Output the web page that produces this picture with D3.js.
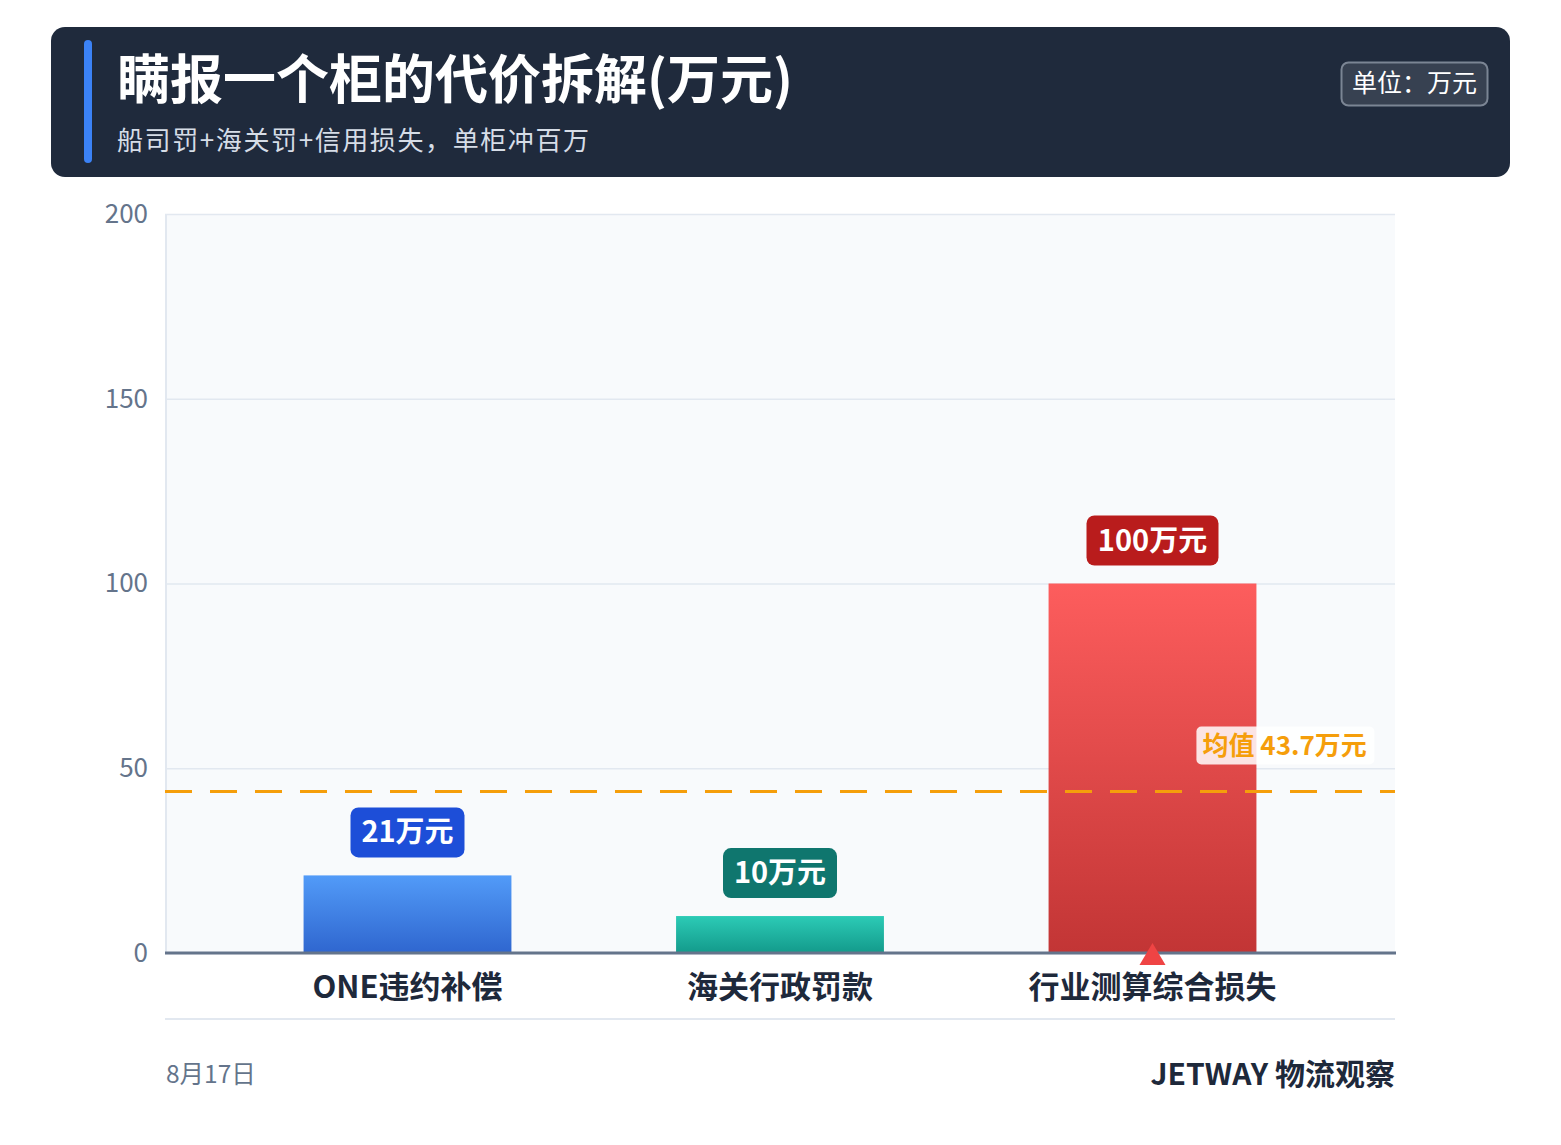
<!DOCTYPE html>
<html><head><meta charset="utf-8">
<script src="https://cdn.jsdelivr.net/npm/d3@7"></script>
<style>
html,body{margin:0;padding:0;background:#fff;}
svg{display:block;font-family:"Noto Sans CJK SC","Noto Sans",sans-serif;}
</style></head>
<body><svg id="c" width="1561" height="1145"></svg>
<script>
const categories = ["ONE违约补偿", "海关行政罚款", "行业测算综合损失"];
const values = [21, 10, 100];
const valueLabels = ["21万元", "10万元", "100万元"];
const yTicks = [0, 50, 100, 150, 200];
const meanValue = 43.7;
const meanLabel = "均值 43.7万元";
const title = "瞒报一个柜的代价拆解(万元)";
const subtitle = "船司罚+海关罚+信用损失，单柜冲百万";
const unitText = "单位：万元";
const dateText = "8月17日";
const brandText = "JETWAY 物流观察";

const svg = d3.select("#c");
const defs = svg.append("defs");
const grads = [["#529bf8","#2f66cf"],["#2ccbb6","#139a8b"],["#fd5d5d","#c23535"]];
grads.forEach((g,i)=>{
  const lg = defs.append("linearGradient").attr("id","g"+i).attr("x1",0).attr("y1",0).attr("x2",0).attr("y2",1);
  lg.append("stop").attr("offset","0%").attr("stop-color",g[0]);
  lg.append("stop").attr("offset","100%").attr("stop-color",g[1]);
});
const labelColors = ["#1d4ed8","#0f766e","#b91c1c"];

// Header
svg.append("rect").attr("x",51).attr("y",27).attr("width",1459).attr("height",150).attr("rx",14).attr("fill","#1f2a3c");
svg.append("rect").attr("x",84).attr("y",40).attr("width",8).attr("height",123).attr("rx",4).attr("fill","#3b82f6");
svg.append("text").attr("x",117).attr("y",99).attr("fill","#fff").attr("font-size",53).attr("font-weight",700).text(title);
svg.append("text").attr("x",117).attr("y",150).attr("fill","#d6dde7").attr("font-size",26).attr("letter-spacing",1.6).text(subtitle);
svg.append("rect").attr("x",1341.5).attr("y",62.5).attr("width",146).attr("height",43).attr("rx",7)
  .attr("fill","#374151").attr("stroke","#7b8594").attr("stroke-width",2);
svg.append("text").attr("x",1414.5).attr("y",92).attr("text-anchor","middle").attr("fill","#fff").attr("font-size",25).text(unitText);

// Plot
const L=165, R=1395, T=214, B=953;
const y = d3.scaleLinear().domain([0,200]).range([B,T]);
const x = d3.scaleBand().domain(categories).range([L,R]).paddingInner(0.442).paddingOuter(0.372);

svg.append("rect").attr("x",L).attr("y",T).attr("width",R-L).attr("height",B-T).attr("fill","#f8fafc");
svg.append("line").attr("x1",L+1).attr("x2",L+1).attr("y1",T).attr("y2",B).attr("stroke","#e2e8f0").attr("stroke-width",2);

const yAxis = svg.append("g").attr("transform",`translate(${L},0)`)
  .call(d3.axisLeft(y).tickValues(yTicks).tickSize(-(R-L)).tickPadding(17));
yAxis.select(".domain").remove();
yAxis.selectAll(".tick line").attr("stroke","#e2e8f0").attr("stroke-width",1.5);
yAxis.selectAll(".tick text").attr("fill","#64748b").attr("font-size",26).attr("font-family","'Noto Sans CJK SC',sans-serif");

// bars
svg.selectAll("rect.bar").data(values).join("rect").attr("class","bar")
  .attr("x",(d,i)=>x(categories[i])).attr("width",x.bandwidth())
  .attr("y",d=>y(d)).attr("height",d=>B-y(d)).attr("fill",(d,i)=>`url(#g${i})`);

// baseline
svg.append("line").attr("x1",L).attr("x2",R+1).attr("y1",B).attr("y2",B).attr("stroke","#64748b").attr("stroke-width",3);

// mean line
svg.append("line").attr("x1",L).attr("x2",R).attr("y1",y(meanValue)).attr("y2",y(meanValue))
  .attr("stroke","#f59e0b").attr("stroke-width",3).attr("stroke-dasharray","27,18");
const rx0 = x(categories[2]) + x.bandwidth() - 60;
svg.append("rect").attr("x",rx0).attr("y",y(meanValue)-65).attr("width",178).attr("height",38).attr("rx",5)
  .attr("fill","rgba(255,255,255,0.85)");
svg.append("text").attr("x",rx0+6).attr("y",y(meanValue)-37).attr("fill","#f59e0b").attr("font-size",26).attr("font-weight",700).text(meanLabel);

// value labels
values.forEach((v,i)=>{
  const cx = x(categories[i]) + x.bandwidth()/2;
  const w = valueLabels[i].length>4 ? 132 : 114;
  const top = y(v) - 18 - 50;
  svg.append("rect").attr("x",cx-w/2).attr("y",top).attr("width",w).attr("height",50).attr("rx",8).attr("fill",labelColors[i]);
  svg.append("text").attr("x",cx).attr("y",top+35).attr("text-anchor","middle").attr("fill","#fff")
    .attr("font-size",29).attr("font-weight",700).text(valueLabels[i]);
});

// triangle marker at the largest bar
const imax = values.indexOf(d3.max(values));
const tcx = x(categories[imax]) + x.bandwidth()/2;
svg.append("path").attr("d",`M${tcx-13},${B+12} L${tcx},${B-10} L${tcx+13},${B+12} Z`).attr("fill","#ef4444");

// x labels
categories.forEach((c)=>{
  svg.append("text").attr("x",x(c)+x.bandwidth()/2).attr("y",998).attr("text-anchor","middle")
    .attr("fill","#1e293b").attr("font-size",31).attr("font-weight",700).text(c);
});

// separator + footer
svg.append("line").attr("x1",L).attr("x2",R).attr("y1",1019).attr("y2",1019).attr("stroke","#e2e8f0").attr("stroke-width",2);
svg.append("text").attr("x",166).attr("y",1083).attr("fill","#64748b").attr("font-size",24.5).text(dateText);
svg.append("text").attr("x",R).attr("y",1085).attr("text-anchor","end").attr("fill","#1e293b").attr("font-size",30).attr("font-weight",700).text(brandText);
</script></body></html>
